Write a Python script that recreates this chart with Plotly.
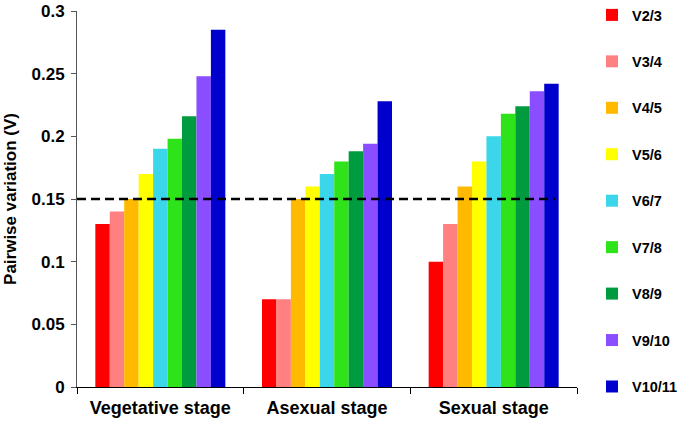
import plotly.graph_objects as go

stages = ["Vegetative stage", "Asexual stage", "Sexual stage"]
series_names = ["V2/3", "V3/4", "V4/5", "V5/6", "V6/7", "V7/8", "V8/9", "V9/10", "V10/11"]
v23 = [0.13, 0.07, 0.10]
v34 = [0.14, 0.07, 0.13]
v45 = [0.15, 0.15, 0.16]
v56 = [0.17, 0.16, 0.18]
v67 = [0.19, 0.17, 0.20]
v78 = [0.198, 0.18, 0.218]
v89 = [0.216, 0.188, 0.224]
v910 = [0.248, 0.194, 0.236]
v1011 = [0.285, 0.228, 0.242]
series_values = [v23, v34, v45, v56, v67, v78, v89, v910, v1011]
colors = ["#FF0000", "#FF8080", "#FFBA00", "#FFFF00", "#3CD6EA",
          "#2EE31A", "#009B3F", "#8A4DFF", "#0000CC"]
THRESHOLD = 0.15
y_ticks = [0, 0.05, 0.1, 0.15, 0.2, 0.25, 0.3]
y_tick_text = ["0", "0.05", "0.1", "0.15", "0.2", "0.25", "0.3"]

font_family = "Liberation Sans, Arial, sans-serif"

fig = go.Figure()
for i, (name, vals, col) in enumerate(zip(series_names, series_values, colors)):
    fig.add_trace(go.Bar(x=stages, y=vals, name=name, marker_color=col,
                         marker_line_width=0, legendgroup=name))

fig.add_shape(type="line", xref="paper", yref="y", x0=0, x1=0.956,
              y0=THRESHOLD, y1=THRESHOLD,
              line=dict(color="black", width=2.5, dash="9px,5px"))

fig.update_layout(
    width=680, height=422,
    margin=dict(l=77, r=103, t=11, b=35, autoexpand=False),
    paper_bgcolor="white", plot_bgcolor="white",
    barmode="group", bargap=0.22, bargroupgap=0,
    font=dict(family=font_family, color="black"),
    legend=dict(x=1.03, y=1.032, xanchor="left", yanchor="top",
                font=dict(size=14.5, family=font_family, color="black", weight="bold"),
                tracegroupgap=24.6, itemwidth=30, bgcolor="rgba(0,0,0,0)",
                maxheight=1.0),
    showlegend=True,
)
fig.update_xaxes(showline=True, linecolor="black", linewidth=1,
                 ticks="outside", tickson="boundaries", ticklen=6, tickcolor="black",
                 ticklabelstandoff=4,
                 tickfont=dict(size=18, family=font_family, weight="bold"),
                 showgrid=False)
fig.update_yaxes(range=[0, 0.3], tickvals=y_ticks, ticktext=y_tick_text,
                 showline=True, linecolor="#555555", linewidth=1,
                 ticks="outside", ticklen=5, tickcolor="#555555",
                 ticklabelstandoff=3,
                 tickfont=dict(size=17, family=font_family, weight="bold"),
                 showgrid=False, zeroline=False,
                 title=dict(text="Pairwise variation (V)", standoff=10,
                            font=dict(size=17, family=font_family, weight="bold")))

fig.write_html("out.html", config={"displayModeBar": False},
               post_script="document.body.style.margin='0';document.body.style.overflow='hidden';")
